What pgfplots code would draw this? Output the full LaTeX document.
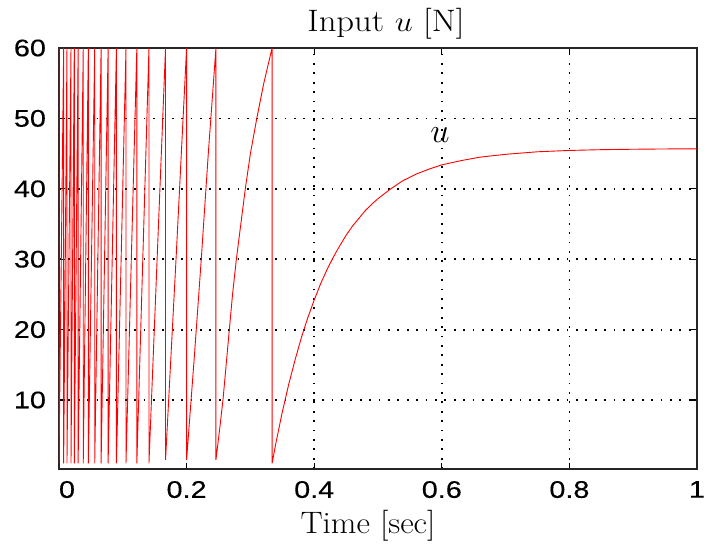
\documentclass[border=0pt]{standalone}
\usepackage{fontspec}
\usepackage{graphicx}
\usepackage{pgfplots}
\pgfplotsset{compat=1.18}
\newfontfamily\tickfont[FakeStretch=1.2,FakeBold=0.3]{Liberation Sans}

\begin{document}
\begin{tikzpicture}
\begin{axis}[name=ax,
    scale only axis, width=319pt, height=210.5pt,
    xmin=0, xmax=1, ymin=0.2, ymax=60,
    xtick={0,0.2,0.4,0.6,0.8,1},
    xticklabels={\hspace*{8pt}0,0.2,0.4,0.6,0.8,1},
    ytick={10,20,30,40,50,60},
    tick align=inside, major tick length=3pt,
    tick style={black, line width=0.6pt},
    grid=major, grid style={black, line width=0.9pt, dash pattern=on 0.9pt off 3.8pt},
    axis line style={line width=0.8pt, black!85},
    /pgf/number format/assume math mode=true,
    tick label style={font=\tickfont\fontsize{12}{14}\selectfont},
    xticklabel style={yshift=-2.5pt},
    yticklabel style={xshift=-3pt},
    title={\scalebox{1.12}[1]{Input $u$ [N]}},
    title style={font=\fontsize{15.5}{17}\selectfont, yshift=-5pt, xshift=4pt},
    xlabel={\scalebox{1.07}[1]{Time [sec]}},
    xlabel style={font=\fontsize{15.5}{17}\selectfont, yshift=1pt, xshift=-5pt},
    clip=true]
\addplot[red, line width=0.45pt] coordinates {
  (0,60) (0,1)
  (0.0073,60) (0.0073,1)
  (0.0125,60) (0.0125,1)
  (0.0188,60) (0.0188,1)
  (0.024,60) (0.024,1)
  (0.030,60) (0.030,1)
  (0.038,60) (0.038,1)
  (0.046,60) (0.046,1)
  (0.056,60) (0.056,1)
  (0.066,60) (0.066,1)
  (0.077,60) (0.077,1)
  (0.090,60) (0.090,1)
  (0.105,60) (0.105,1)
  (0.122,60) (0.122,1)
  (0.141,60) (0.141,1)
  (0.167,60) (0.167,1.5)
  (0.184,31) (0.200,60) (0.200,1.5)
  (0.212,16) (0.223,30) (0.234,45) (0.246,60) (0.246,1.5)
  (0.252,6) (0.257,10) (0.262,15) (0.267,20) (0.272,25) (0.278,30)
  (0.285,35) (0.292,40) (0.300,45) (0.310,50) (0.321,55) (0.334,60) (0.334,1)
  (0.340,3.9) (0.350,8.3) (0.360,12.2) (0.370,15.7) (0.380,18.9)
  (0.390,21.7) (0.400,24.2) (0.410,26.5) (0.420,28.5) (0.430,30.3)
  (0.440,31.9) (0.450,33.4) (0.460,34.7) (0.470,35.8) (0.480,36.9)
  (0.490,37.8) (0.500,38.6) (0.520,40.0) (0.540,41.2) (0.560,42.1)
  (0.580,42.8) (0.600,43.4) (0.630,44.0) (0.660,44.5) (0.700,44.9)
  (0.750,45.26) (0.800,45.45) (0.850,45.56) (0.900,45.62) (0.950,45.66)
  (1.000,45.68)
};
\node[font=\fontsize{17}{19}\selectfont] at (axis cs:0.597,47.6) {$u$};
\end{axis}
\pgfresetboundingbox
\path ([shift={(-29.5pt,-39.5pt)}]ax.south west) rectangle ([shift={(5pt,24pt)}]ax.north east);
\end{tikzpicture}
\end{document}
